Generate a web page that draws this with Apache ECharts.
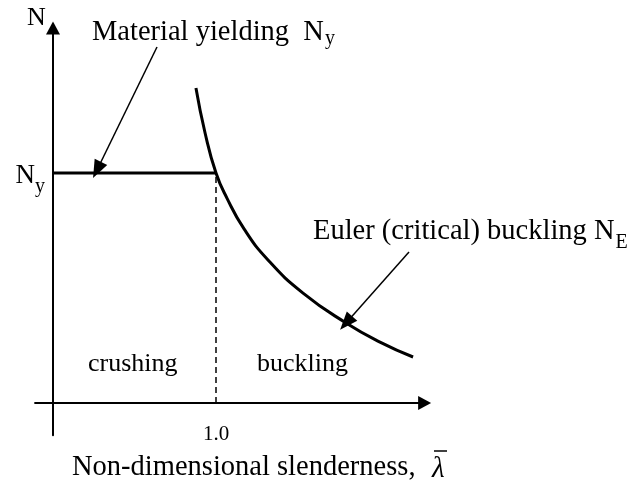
<!DOCTYPE html>
<html>
<head>
<meta charset="utf-8">
<script src="https://cdn.jsdelivr.net/npm/echarts@6/dist/echarts.min.js"></script>
<style>
  html, body { margin: 0; padding: 0; background: #fff; }
  #chart { width: 628px; height: 499px; }
</style>
</head>
<body>
<div id="chart"></div>
<script>
// values (x = slenderness, y = N / Ny)
var yieldLine = [[0, 1], [1, 1]];
var limitLine = [[1, 0], [1, 1]];
var eulerCurve = [
  [0.877, 1.370], [0.933, 1.174], [1.0, 1.0], [1.067, 0.891], [1.172, 0.757],
  [1.319, 0.622], [1.534, 0.478], [1.798, 0.348], [2.006, 0.265], [2.209, 0.200]
];
var xTicks = [1];
var yTicks = [1];
// annotation arrows: [from, to]
var arrows = [
  [[0.638, 1.548], [0.270, 1.013]],
  [[2.184, 0.657], [1.798, 0.348]]
];

var serif = 'Liberation Serif, Times New Roman, serif';

function subRich(size, drop) {
  return {
    n: { fontFamily: serif, fontSize: size, lineHeight: 30, verticalAlign: 'top', fill: '#000', color: '#000' },
    s: { fontFamily: serif, fontSize: 20, lineHeight: 20, padding: [drop, 0, 0, 1], verticalAlign: 'top', fill: '#000', color: '#000' }
  };
}

var chart = echarts.init(document.getElementById('chart'));
chart.setOption({
  backgroundColor: '#fff',
  animation: false,
  grid: { left: 35.07, top: 28.1, width: 389.57, height: 407.1, outerBoundsMode: 'none' },
  xAxis: {
    type: 'value',
    min: -0.11,
    max: 2.28,
    splitLine: { show: false },
    axisTick: { show: false },
    axisLine: {
      onZero: true,
      symbol: ['none', 'triangle'],
      symbolSize: [14, 13],
      lineStyle: { color: '#000', width: 2 }
    },
    axisLabel: {
      customValues: xTicks,
      margin: -11,
      color: '#000',
      fontFamily: serif,
      fontSize: 21,
      formatter: function (v) { return v.toFixed(1); }
    }
  },
  yAxis: {
    type: 'value',
    min: -0.14,
    max: 1.63,
    splitLine: { show: false },
    axisTick: { show: false },
    axisLine: {
      onZero: true,
      symbol: ['none', 'triangle'],
      symbolSize: [14, 13],
      lineStyle: { color: '#000', width: 2 }
    },
    axisLabel: {
      customValues: yTicks,
      margin: -10,
      formatter: function () { return '{n|N}{s|y}'; },
      rich: {
        n: { fontFamily: serif, fontSize: 27, lineHeight: 30, padding: [4, 0, 0, 0], verticalAlign: 'top', color: '#000' },
        s: { fontFamily: serif, fontSize: 20, lineHeight: 20, padding: [19, 0, 0, 0], verticalAlign: 'top', color: '#000' }
      }
    }
  },
  series: [
    {
      type: 'line',
      data: yieldLine,
      symbol: 'none',
      lineStyle: { color: '#000', width: 3 },
      silent: true,
      markLine: {
        silent: true,
        symbol: ['none', 'triangle'],
        symbolSize: [14, 18],
        label: { show: false },
        lineStyle: { color: '#000', width: 1.5, type: 'solid' },
        data: arrows.map(function (a) {
          return [{ coord: a[0] }, { coord: a[1] }];
        })
      }
    },
    {
      type: 'line',
      data: limitLine,
      symbol: 'none',
      lineStyle: { color: '#000', width: 1.5, type: [6, 4] },
      silent: true
    },
    {
      type: 'line',
      data: eulerCurve,
      symbol: 'none',
      smooth: true,
      lineStyle: { color: '#000', width: 3 },
      silent: true
    }
  ],
  graphic: [
    {
      type: 'text', left: 27, top: 5,
      style: { text: 'N', font: '26px ' + serif, fill: '#000' }
    },
    {
      type: 'text', left: 92, top: 18.4,
      style: { text: '{n|Material yielding  N}{s|y}', rich: subRich(28.5, 10) }
    },
    {
      type: 'text', left: 313, top: 217.4,
      style: { text: '{n|Euler (critical) buckling N}{s|E}', rich: subRich(28.5, 15) }
    },
    {
      type: 'text', left: 88, top: 351,
      style: { text: 'crushing', font: '26px ' + serif, fill: '#000' }
    },
    {
      type: 'text', left: 257, top: 351,
      style: { text: 'buckling', font: '26px ' + serif, fill: '#000' }
    },
    {
      type: 'text', left: 72, top: 453,
      style: { text: 'Non-dimensional slenderness,', font: '28.5px ' + serif, fill: '#000' }
    },
    {
      type: 'text', left: 432, top: 455,
      style: { text: 'λ', font: 'italic 29px ' + serif, fill: '#000' }
    },
    {
      type: 'line',
      shape: { x1: 434, y1: 451, x2: 447, y2: 451 },
      style: { stroke: '#000', lineWidth: 1.5 }
    }
  ]
});
</script>
</body>
</html>
